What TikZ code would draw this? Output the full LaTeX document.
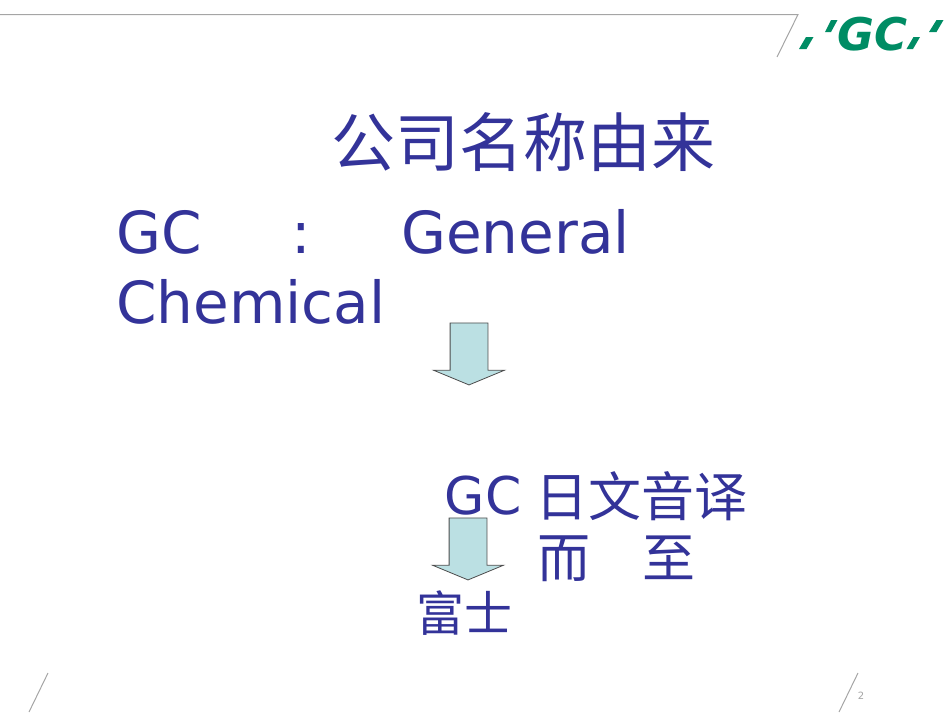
\documentclass[tikz,border=0pt]{standalone}
\usepackage{fontspec}
\setmainfont{DejaVu Sans}
\newfontfamily\cjkfont{Noto Sans CJK SC}
\newfontfamily\logofont[BoldFont={DejaVu Sans Bold Oblique}]{DejaVu Sans}
\usepackage{xcolor}
\usepackage{tikz}
\usetikzlibrary{positioning,calc,shapes.arrows}
\definecolor{SlideBlue}{RGB}{51,51,153}
\definecolor{SlideArrow}{RGB}{187,224,227}
\definecolor{LogoGreen}{RGB}{0,140,100}
\definecolor{RuleGray}{RGB}{165,165,165}
\tikzset{
    slidetext/.style={text=SlideBlue, inner sep=0pt, anchor=base west, align=left},
    downarrow/.style={
        single arrow, draw=black!70, fill=SlideArrow, line width=0.8pt,
        shape border rotate=270, inner sep=18.5pt,
        minimum height=62, minimum width=70.5,
        single arrow head extend=16.5, single arrow tip angle=135,
        single arrow head indent=0pt
    },
    framerule/.style={draw=RuleGray, line width=1pt},
    logotick/.style={fill=LogoGreen, draw=none}
}

\begin{document}
\begin{tikzpicture}[x=1pt, y=-1pt]
        \useasboundingbox (0,0) rectangle (950,713);

        % --- KHUNG TRANG ---
        \draw[framerule] (0,14.5) -- (798,14.5) -- (777,57);
        \draw[framerule] (48,673) -- (29,712);
        \draw[framerule] (858,673) -- (839,712);
        \node[text=RuleGray, inner sep=0pt, font=\fontsize{10}{12}\selectfont] (pagenum) at (861,696) {2};

        % --- LOGO ---
        \fill[logotick] (799,49) -- (806.5,49) -- (813.5,37) -- (806,37) -- cycle;
        \fill[logotick] (825,32) -- (831,32) -- (837.5,20) -- (831,20) -- cycle;
        \fill[logotick] (906.5,49) -- (913,49) -- (920,37) -- (913.5,37) -- cycle;
        \fill[logotick] (929,32) -- (936.5,32) -- (943.5,20) -- (936.5,20) -- cycle;
        \node[text=LogoGreen, inner sep=0pt, anchor=base west, font=\logofont\bfseries\fontsize{45}{45}\selectfont] (logo) at (837,50) {GC};

        % --- NOI DUNG ---
        \node[slidetext, font=\cjkfont\fontsize{64}{64}\selectfont] (title) at (331,166) {公司名称由来};
        \node[slidetext, font=\fontsize{58}{70}\selectfont] (name) at (116,323) {GC\hspace{90pt}:\hspace{90pt}General\\Chemical};

        \node[downarrow] (arrowa) at (469,350) {};

        \node[slidetext, font=\fontsize{52}{52}\selectfont] (gc) at (444.5,514) {GC};
        \node[slidetext, font=\cjkfont\fontsize{53}{53}\selectfont] (yin) at (535,516) {日文音译};
        \node[slidetext, font=\cjkfont\fontsize{53}{53}\selectfont] (er) at (537,577) {而};
        \node[slidetext, font=\cjkfont\fontsize{53}{53}\selectfont] (zhi) at (642,577) {至};

        \node[downarrow] (arrowb) at (468,545) {};

        \node[slidetext, font=\cjkfont\fontsize{48}{48}\selectfont] (fuji) at (416,631) {富士};
\end{tikzpicture}
\end{document}
